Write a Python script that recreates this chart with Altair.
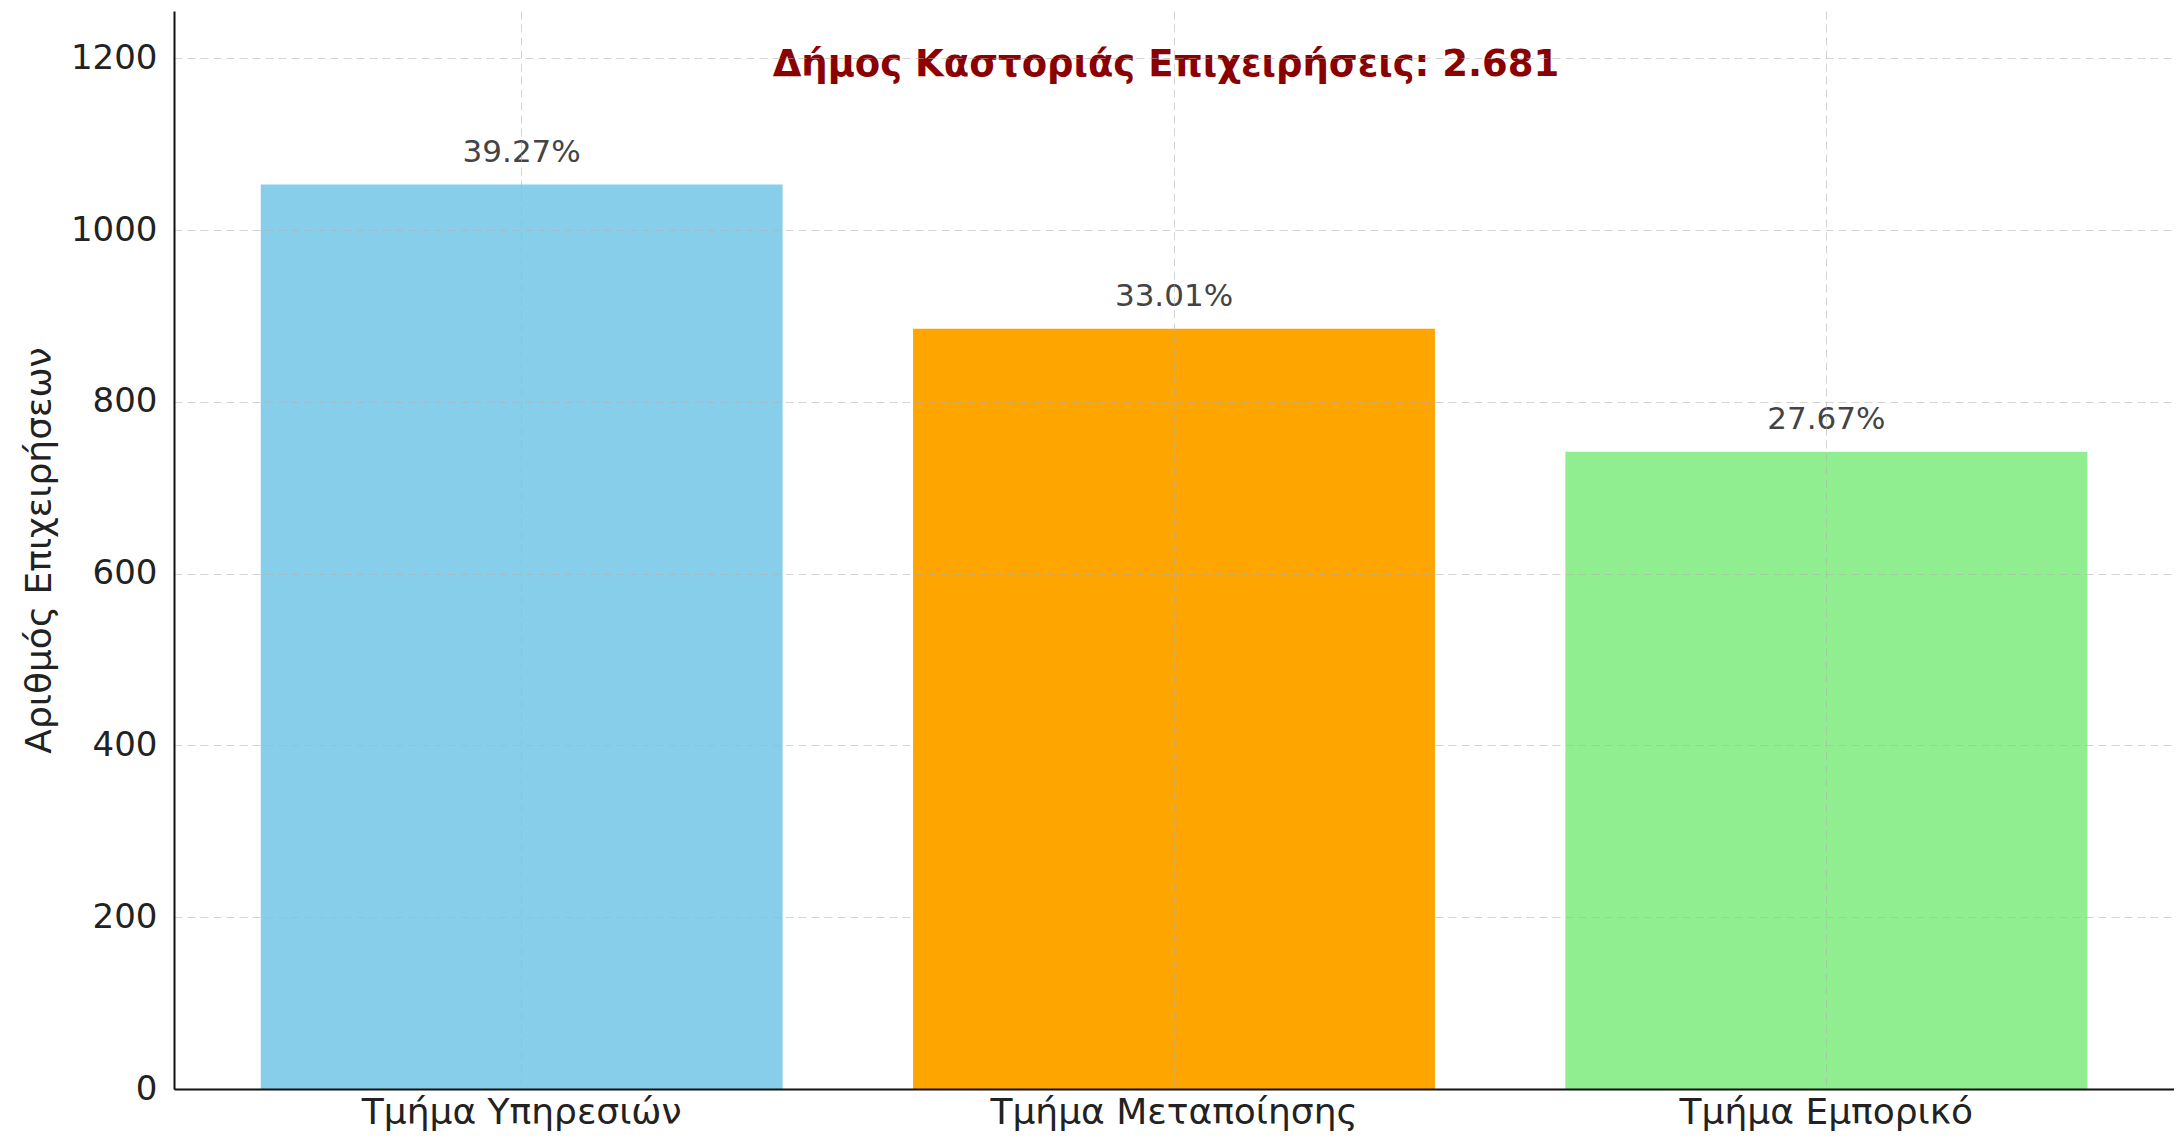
import altair as alt
import pandas as pd

categories = ["Τμήμα Υπηρεσιών", "Τμήμα Μεταποίησης", "Τμήμα Εμπορικό"]
counts = [1053, 885, 742]
percent_labels = ["39.27%", "33.01%", "27.67%"]
bar_colors = ["#87CEEB", "#FFA500", "#90EE90"]
y_ticks = [0, 200, 400, 600, 800, 1000, 1200]
subtitle = "Δήμος Καστοριάς Επιχειρήσεις: 2.681"
y_title = "Αριθμός Επιχειρήσεων"

df = pd.DataFrame({"category": categories, "count": counts, "pct": percent_labels})

W = 2000
H = 1078
FONT = "DejaVu Sans"

x_enc = alt.X(
    "category:N",
    sort=categories,
    scale=alt.Scale(paddingInner=0.2, paddingOuter=0.133),
    axis=alt.Axis(
        title=None, labelAngle=0, labelFont=FONT, labelFontSize=36, labelColor="#222222",
        labelPadding=6, labelLimit=0, ticks=False, tickSize=0, domainColor="#111111", domainWidth=2,
        grid=True, gridDash=[8, 5], gridColor="#b0b0b0", gridOpacity=0.55, gridWidth=1,
        bandPosition=0.5, zindex=1,
    ),
)
y_enc = alt.Y(
    "count:Q",
    scale=alt.Scale(domain=[0, 1255], nice=False, zero=True),
    axis=alt.Axis(
        values=y_ticks, format="d", title=y_title, labelFont=FONT, labelFontSize=34, labelColor="#222222",
        labelPadding=17, ticks=False, tickSize=0, domainColor="#111111", domainWidth=2,
        grid=True, gridDash=[8, 5], gridColor="#b0b0b0", gridOpacity=0.55, gridWidth=1,
        titleFont=FONT, titleFontSize=36, titleFontWeight="normal", titleColor="#222222",
        titleX=-135, titleY=H / 2, titleAngle=270, titleAlign="center", titleBaseline="middle",
        zindex=1,
    ),
)

bars = alt.Chart(df).mark_bar().encode(
    x=x_enc,
    y=y_enc,
    color=alt.Color("category:N", scale=alt.Scale(domain=categories, range=bar_colors), legend=None),
)

labels = alt.Chart(df).mark_text(
    dy=-23, baseline="alphabetic", align="center", font=FONT, fontSize=31, color="#444444"
).encode(
    x=alt.X("category:N", sort=categories),
    y=alt.Y("count:Q"),
    text="pct:N",
)

sub = alt.Chart(pd.DataFrame({"t": [subtitle]})).mark_text(
    font=FONT, fontSize=37, fontWeight="bold", color="#8B0000", baseline="middle", align="center"
).encode(
    x=alt.value(992), y=alt.value(54), text="t:N"
)

chart = alt.layer(bars, labels, sub).properties(
    width=W,
    height=H,
    padding={"left": 166, "top": 3, "right": 0, "bottom": 44},
    autosize=alt.AutoSizeParams(type="none"),
).configure_view(stroke=None)

chart.save("out.html", embed_options={"renderer": "svg", "actions": False})
